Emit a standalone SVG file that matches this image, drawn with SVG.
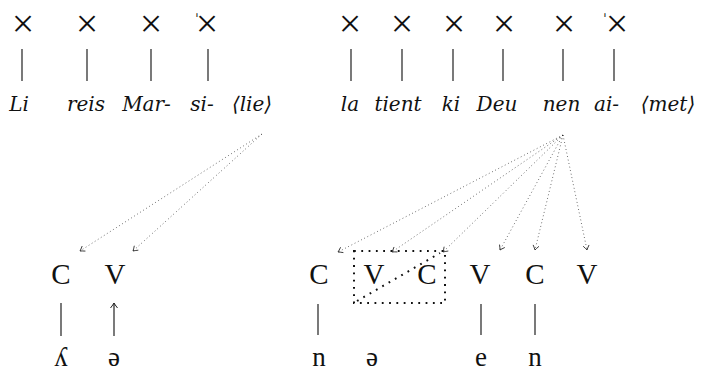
<svg xmlns="http://www.w3.org/2000/svg" width="707" height="372" viewBox="0 0 707 372">
<style>
.x{font-family:"Liberation Serif","Times New Roman",serif;font-size:40px;fill:#111;text-anchor:middle}
.st{font-family:"DejaVu Sans",sans-serif;font-size:14px;fill:#111;text-anchor:middle}
.w{font-family:"DejaVu Serif","Liberation Serif",serif;font-style:italic;font-size:20px;fill:#111;text-anchor:middle}
.cv{font-family:"Liberation Serif","DejaVu Serif",serif;font-size:29px;fill:#111;text-anchor:middle}
.ph{font-family:"Liberation Serif","DejaVu Serif",serif;font-size:27px;fill:#111;text-anchor:middle}
.bar{stroke:#222;stroke-width:1.2;fill:none}
.dot{stroke:#222;stroke-width:0.8;fill:none;stroke-dasharray:0.8 2.8;marker-end:url(#tip)}
.box{stroke:#111;stroke-width:2;fill:none;stroke-dasharray:1.8 5.5}
</style>
<defs>
<marker id="tip" markerUnits="userSpaceOnUse" markerWidth="12" markerHeight="12" refX="0" refY="0" viewBox="-6 -6 12 12" orient="auto" overflow="visible">
<path d="M-4.5,-3 Q-1.5,-0.8 0,0 Q-1.5,0.8 -4.5,3" fill="none" stroke="#222" stroke-width="0.8"/>
</marker>
<marker id="up" markerUnits="userSpaceOnUse" markerWidth="12" markerHeight="12" refX="0" refY="0" viewBox="-6 -6 12 12" orient="auto" overflow="visible">
<path d="M-5,-3.5 Q-1.5,-0.8 0,0 Q-1.5,0.8 -5,3.5" fill="none" stroke="#222" stroke-width="1"/>
</marker>
</defs>

<g id="tier-top">
<g id="n-li"><text class="x" x="23" y="37">×</text><text class="w" x="19" y="111">Li</text></g>
<g id="n-reis"><text class="x" x="87" y="37">×</text><text class="w" x="86" y="111">reis</text></g>
<g id="n-mar"><text class="x" x="151" y="37">×</text><text class="w" x="146.5" y="111">Mar-</text></g>
<g id="n-si"><text class="x" y="37"><tspan class="st" x="197" y="24">ˈ</tspan><tspan x="207" y="37">×</tspan></text><text class="w" x="202" y="111">si-</text></g>
<g id="n-lie"><text class="w" x="252" y="111">⟨lie⟩</text></g>
<g id="n-la"><text class="x" x="350" y="37">×</text><text class="w" x="350" y="111">la</text></g>
<g id="n-tient"><text class="x" x="402" y="37">×</text><text class="w" x="398" y="111">tient</text></g>
<g id="n-ki"><text class="x" x="454" y="37">×</text><text class="w" x="451" y="111">ki</text></g>
<g id="n-deu"><text class="x" x="504" y="37">×</text><text class="w" x="497" y="111">Deu</text></g>
<g id="n-nen"><text class="x" x="564" y="37">×</text><text class="w" x="561.5" y="111">nen</text></g>
<g id="n-ai"><text class="x" y="37"><tspan class="st" x="605" y="24">ˈ</tspan><tspan x="617" y="37">×</tspan></text><text class="w" x="606.5" y="111">ai-</text></g>
<g id="n-met"><text class="w" x="668" y="111">⟨met⟩</text></g>
</g>

<g id="tier-cv">
<g id="c1"><text class="cv" x="61" y="284">C</text><text class="ph" x="61" y="366">ʎ</text></g>
<g id="v1"><text class="cv" x="115" y="284">V</text><text class="ph" x="114" y="366">ə</text></g>
<g id="c2"><text class="cv" x="319" y="284">C</text><text class="ph" x="319" y="366">n</text></g>
<g id="v2"><text class="cv" x="374" y="284">V</text><text class="ph" x="372" y="366">ə</text></g>
<g id="c3"><text class="cv" x="427" y="284">C</text></g>
<g id="v3"><text class="cv" x="480" y="284">V</text><text class="ph" x="481" y="366">e</text></g>
<g id="c4"><text class="cv" x="535" y="284">C</text><text class="ph" x="535" y="366">n</text></g>
<g id="v4"><text class="cv" x="587" y="284">V</text></g>
</g>

<g id="connectors">
<path class="bar" d="M22,49V81M87,49V81M151,49V81M208,49V81M351,49V81M402,49V81M453,49V81M503,49V81M563,49V81M614,49V81"/>
<path class="bar" d="M61,303V336M318,304V335M481,304V335M535,304V335"/>
<line class="bar" x1="114" y1="336" x2="114" y2="303" marker-end="url(#up)"/>
<line class="dot" x1="262" y1="134" x2="80" y2="251"/>
<line class="dot" x1="262" y1="134" x2="133" y2="251"/>
<line class="dot" x1="563" y1="135" x2="338" y2="252"/>
<line class="dot" x1="563" y1="135" x2="392" y2="252"/>
<line class="dot" x1="563" y1="135" x2="443" y2="252"/>
<line class="dot" x1="563" y1="135" x2="500" y2="250"/>
<line class="dot" x1="563" y1="135" x2="535" y2="250"/>
<line class="dot" x1="563" y1="135" x2="587" y2="250"/>
<rect class="box" x="354" y="251" width="91" height="52"/>
<line class="box" x1="357" y1="301" x2="440" y2="253"/>
</g>
</svg>
